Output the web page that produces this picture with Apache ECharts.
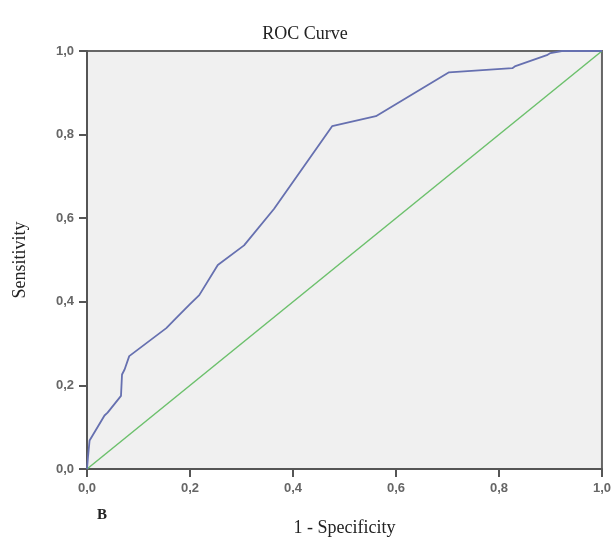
<!DOCTYPE html>
<html><head><meta charset="utf-8">
<script src="https://cdn.jsdelivr.net/npm/echarts@6/dist/echarts.min.js"></script>
<style>html,body{margin:0;padding:0;background:#fff}#c{width:614px;height:542px}</style>
</head><body><div id="c"></div>
<script>
const rocX = [0, 0.002, 0.005, 0.034, 0.040, 0.066, 0.068, 0.073, 0.082, 0.154, 0.173, 0.199, 0.212, 0.218, 0.254, 0.305, 0.363, 0.476, 0.561, 0.703, 0.826, 0.832, 0.893, 0.900, 0.922, 1.0];
const rocY = [0, 0.03, 0.068, 0.128, 0.135, 0.175, 0.226, 0.238, 0.270, 0.337, 0.361, 0.393, 0.409, 0.416, 0.488, 0.535, 0.622, 0.820, 0.844, 0.949, 0.959, 0.964, 0.990, 0.995, 1.0, 1.0];
const refX = [0, 1];
const refY = [0, 1];
const tickValues = [0, 0.2, 0.4, 0.6, 0.8, 1.0];
const fmt = v => v.toFixed(1).replace('.', ',');

const chart = echarts.init(document.getElementById('c'));
const axisCommon = {
  type: 'value', min: 0, max: 1, interval: 0.2,
  axisLine: {show: true, lineStyle: {color: '#555', width: 2}},
  axisTick: {show: true, length: 8, lineStyle: {color: '#555', width: 2}},
  splitLine: {show: false},
  axisLabel: {color: '#666', fontFamily: 'Liberation Sans', fontWeight: 'bold', fontSize: 13, formatter: fmt}
};
chart.setOption({
  animation: false,
  backgroundColor: '#fff',
  title: {text: 'ROC Curve', left: 300, top: 20, textAlign: 'center',
    textStyle: {fontFamily: 'Liberation Serif', fontWeight: 'normal', fontSize: 18, color: '#222'}},
  grid: {left: 87, right: 11, top: 51, bottom: 70, show: true, backgroundColor: '#f0f0f0', borderColor: '#666', borderWidth: 2},
  xAxis: Object.assign({}, axisCommon, {
    name: '1 - Specificity', nameLocation: 'middle', nameGap: 50,
    nameTextStyle: {fontFamily: 'Liberation Serif', fontSize: 18, color: '#222', padding: [0, 0, 0, 0]},
    axisLabel: Object.assign({}, axisCommon.axisLabel, {margin: 13})
  }),
  yAxis: Object.assign({}, axisCommon, {
    name: 'Sensitivity', nameLocation: 'middle', nameGap: 58,
    nameTextStyle: {fontFamily: 'Liberation Serif', fontSize: 18, color: '#222'},
    axisLabel: Object.assign({}, axisCommon.axisLabel, {margin: 13})
  }),
  graphic: [{type: 'text', left: 97, top: 508, style: {text: 'B', font: 'bold 15px "Liberation Serif"', fill: '#222'}}],
  series: [
    {type: 'line', data: refX.map((x, i) => [x, refY[i]]), symbol: 'none', lineStyle: {color: '#6cc06c', width: 1.5}, z: 2},
    {type: 'line', data: rocX.map((x, i) => [x, rocY[i]]), symbol: 'none', lineStyle: {color: '#6670b0', width: 1.8}, z: 3}
  ]
});
</script></body></html>
